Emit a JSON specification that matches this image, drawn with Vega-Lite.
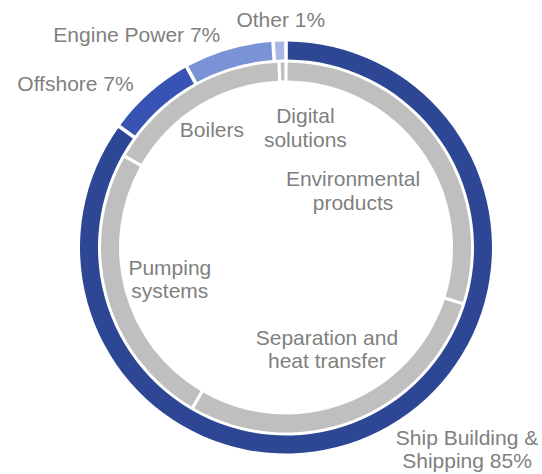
{
  "$schema": "https://vega.github.io/schema/vega-lite/v6.json",
  "width": 412,
  "height": 412,
  "autosize": {"type": "none"},
  "padding": {"left": 80, "top": 41.5, "right": 50, "bottom": 20.5},
  "background": "white",
  "config": {
    "view": {"stroke": null},
    "text": {"font": "Liberation Sans", "fontSize": 21, "fill": "#7f7f7f", "lineBreak": "\n", "lineHeight": 23.5}
  },
  "datasets": {
    "outer": [
      {"name": "ship", "label": "Ship Building &\nShipping 85%", "value": 85, "ord": 1},
      {"name": "offshore", "label": "Offshore 7%", "value": 7, "ord": 2},
      {"name": "engine", "label": "Engine Power 7%", "value": 7, "ord": 3},
      {"name": "other", "label": "Other 1%", "value": 1, "ord": 4}
    ],
    "inner": [
      {"name": "env", "label": "Environmental\nproducts", "value": 29.9, "ord": 1},
      {"name": "sep", "label": "Separation and\nheat transfer", "value": 28.5, "ord": 2},
      {"name": "pump", "label": "Pumping\nsystems", "value": 24.8, "ord": 3},
      {"name": "boilers", "label": "Boilers", "value": 16.2, "ord": 4},
      {"name": "digital", "label": "Digital\nsolutions", "value": 0.6, "ord": 5}
    ]
  },
  "layer": [
    {
      "data": {"name": "outer"},
      "mark": {"type": "arc", "radius": 206, "radius2": 188, "padAngle": 0.013},
      "encoding": {
        "theta": {"field": "value", "type": "quantitative", "stack": true},
        "order": {"field": "ord", "type": "quantitative"},
        "color": {
          "field": "name", "type": "nominal", "legend": null,
          "scale": {
            "domain": ["ship", "offshore", "engine", "other", "env", "sep", "pump", "boilers", "digital"],
            "range": ["#2e4795", "#3754b4", "#7a93d6", "#a8b7e5", "#bfbfbf", "#bfbfbf", "#bfbfbf", "#bfbfbf", "#bfbfbf"]
          }
        }
      }
    },
    {
      "data": {"name": "inner"},
      "mark": {"type": "arc", "radius": 185, "radius2": 167, "padAngle": 0.013},
      "encoding": {
        "theta": {"field": "value", "type": "quantitative", "stack": true},
        "order": {"field": "ord", "type": "quantitative"},
        "color": {"field": "name", "type": "nominal", "legend": null}
      }
    },
    {
      "data": {"name": "outer"},
      "mark": {"type": "text", "radius": 230, "dx": 76.6, "dy": -13.5},
      "encoding": {
        "theta": {"field": "value", "type": "quantitative", "stack": true},
        "order": {"field": "ord", "type": "quantitative"},
        "detail": {"field": "name", "type": "nominal"},
        "text": {"condition": {"test": "datum.name === 'ship'", "field": "label"}, "value": ""}
      }
    },
    {
      "data": {"name": "outer"},
      "mark": {"type": "text", "radius": 230, "dx": -58.4, "dy": 10},
      "encoding": {
        "theta": {"field": "value", "type": "quantitative", "stack": true},
        "order": {"field": "ord", "type": "quantitative"},
        "detail": {"field": "name", "type": "nominal"},
        "text": {"condition": {"test": "datum.name === 'offshore'", "field": "label"}, "value": ""}
      }
    },
    {
      "data": {"name": "outer"},
      "mark": {"type": "text", "radius": 230, "dx": -85, "dy": 9.3},
      "encoding": {
        "theta": {"field": "value", "type": "quantitative", "stack": true},
        "order": {"field": "ord", "type": "quantitative"},
        "detail": {"field": "name", "type": "nominal"},
        "text": {"condition": {"test": "datum.name === 'engine'", "field": "label"}, "value": ""}
      }
    },
    {
      "data": {"name": "outer"},
      "mark": {"type": "text", "radius": 230, "dx": 2, "dy": 3.5},
      "encoding": {
        "theta": {"field": "value", "type": "quantitative", "stack": true},
        "order": {"field": "ord", "type": "quantitative"},
        "detail": {"field": "name", "type": "nominal"},
        "text": {"condition": {"test": "datum.name === 'other'", "field": "label"}, "value": ""}
      }
    },
    {
      "data": {"name": "inner"},
      "mark": {"type": "text", "radius": 140, "dx": -46, "dy": 15.5},
      "encoding": {
        "theta": {"field": "value", "type": "quantitative", "stack": true},
        "order": {"field": "ord", "type": "quantitative"},
        "detail": {"field": "name", "type": "nominal"},
        "text": {"condition": {"test": "datum.name === 'env'", "field": "label"}, "value": ""}
      }
    },
    {
      "data": {"name": "inner"},
      "mark": {"type": "text", "radius": 140, "dx": -9.4, "dy": -39.5},
      "encoding": {
        "theta": {"field": "value", "type": "quantitative", "stack": true},
        "order": {"field": "ord", "type": "quantitative"},
        "detail": {"field": "name", "type": "nominal"},
        "text": {"condition": {"test": "datum.name === 'sep'", "field": "label"}, "value": ""}
      }
    },
    {
      "data": {"name": "inner"},
      "mark": {"type": "text", "radius": 140, "dx": 19, "dy": -15.5},
      "encoding": {
        "theta": {"field": "value", "type": "quantitative", "stack": true},
        "order": {"field": "ord", "type": "quantitative"},
        "detail": {"field": "name", "type": "nominal"},
        "text": {"condition": {"test": "datum.name === 'pump'", "field": "label"}, "value": ""}
      }
    },
    {
      "data": {"name": "inner"},
      "mark": {"type": "text", "radius": 140, "dx": -1.3, "dy": 3},
      "encoding": {
        "theta": {"field": "value", "type": "quantitative", "stack": true},
        "order": {"field": "ord", "type": "quantitative"},
        "detail": {"field": "name", "type": "nominal"},
        "text": {"condition": {"test": "datum.name === 'boilers'", "field": "label"}, "value": ""}
      }
    },
    {
      "data": {"name": "inner"},
      "mark": {"type": "text", "radius": 140, "dx": 22, "dy": 9.5},
      "encoding": {
        "theta": {"field": "value", "type": "quantitative", "stack": true},
        "order": {"field": "ord", "type": "quantitative"},
        "detail": {"field": "name", "type": "nominal"},
        "text": {"condition": {"test": "datum.name === 'digital'", "field": "label"}, "value": ""}
      }
    }
  ]
}
